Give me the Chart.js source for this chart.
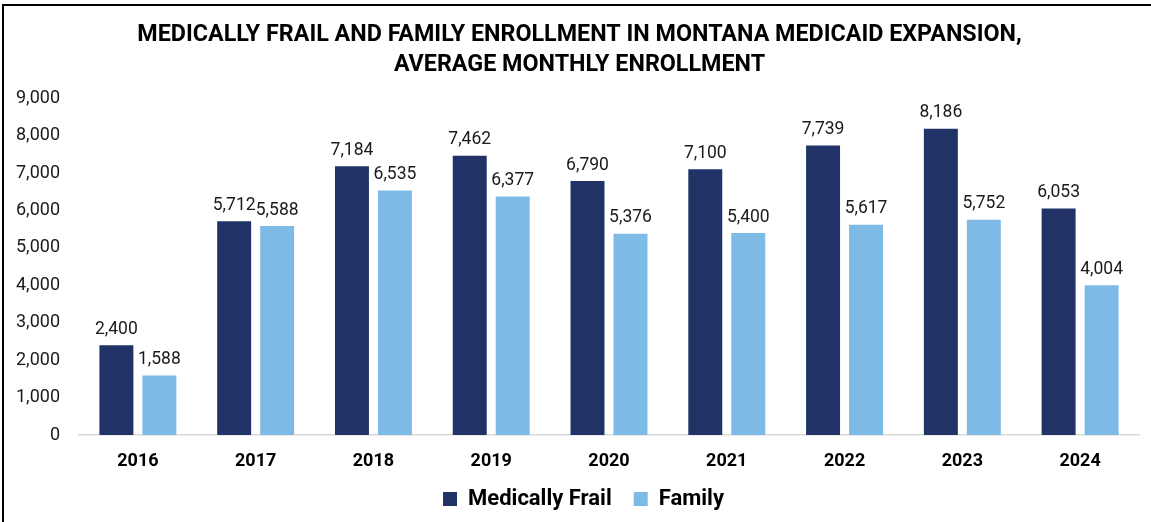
<!DOCTYPE html>
<html>
<head>
<meta charset="utf-8">
<script src="https://cdn.jsdelivr.net/npm/chart.js@4/dist/chart.umd.min.js"></script>
<style>
  html, body { margin: 0; padding: 0; background: #fff; overflow: hidden; }
  #wrap { position: relative; width: 1151px; height: 522px; }
  #frame { position: absolute; left: 2px; top: 4px; width: 1200px; height: 600px; border-left: 2px solid #000; border-top: 2px solid #000; pointer-events: none; }
  canvas { position: absolute; left: 0; top: 0; }
</style>
</head>
<body>
<div id="wrap">
<canvas id="c" width="1151" height="522"></canvas>
<div id="frame"></div>
</div>
<script>
const categories = ['2016','2017','2018','2019','2020','2021','2022','2023','2024'];
const medicallyFrail = [2400, 5712, 7184, 7462, 6790, 7100, 7739, 8186, 6053];
const family = [1588, 5588, 6535, 6377, 5376, 5400, 5617, 5752, 4004];
const titleLines = ['MEDICALLY FRAIL AND FAMILY ENROLLMENT IN MONTANA MEDICAID EXPANSION,', 'AVERAGE MONTHLY ENROLLMENT'];

const FONT = 'Roboto, "Noto Sans", sans-serif';
const fmt = v => v.toLocaleString('en-US');

const labelPlugin = {
  id: 'barLabels',
  afterDatasetsDraw(chart) {
    const ctx = chart.ctx;
    ctx.save();
    ctx.font = '17.5px ' + FONT;
    ctx.fillStyle = '#1a1a1a';
    ctx.textAlign = 'center';
    ctx.textBaseline = 'bottom';
    chart.data.datasets.forEach((ds, i) => {
      chart.getDatasetMeta(i).data.forEach((bar, j) => {
        ctx.fillText(fmt(ds.data[j]), bar.x, bar.y - 7);
      });
    });
    ctx.restore();
  }
};

// small position adjustments of title / legend after layout
const nudgePlugin = {
  id: 'nudge',
  afterLayout(chart) {
    const t = chart.titleBlock;
    if (t) { t.left += 20; }
    const l = chart.legend;
    if (l) {
      const h = l.height;
      l.top = 466; l.bottom = l.top + h;
      l.left += 14; l.right += 14;
    }
  }
};

new Chart(document.getElementById('c'), {
  type: 'bar',
  data: {
    labels: categories,
    datasets: [
      { label: 'Medically Frail', data: medicallyFrail, backgroundColor: '#203266', categoryPercentage: 0.73, barPercentage: 0.79 },
      { label: 'Family', data: family, backgroundColor: '#7dbbe6', categoryPercentage: 0.73, barPercentage: 0.79 }
    ]
  },
  options: {
    responsive: false,
    animation: false,
    layout: { padding: { left: 0, right: 12, top: 21, bottom: 0 } },
    plugins: {
      title: {
        display: true,
        text: titleLines,
        color: '#000',
        font: { family: FONT, size: 23.3, weight: 'bold', lineHeight: 1.25 },
        padding: { top: 0, bottom: 19 }
      },
      legend: {
        position: 'bottom',
        labels: {
          color: '#000',
          font: { family: FONT, size: 22, weight: 'bold' },
          boxWidth: 14, boxHeight: 14, padding: 22
        }
      },
      tooltip: { enabled: false }
    },
    scales: {
      x: {
        grid: { display: false, drawTicks: false },
        border: { display: true, color: '#d9d9d9', width: 1.5 },
        ticks: { color: '#000', font: { family: FONT, size: 18, weight: 'bold' }, padding: 16 },
        afterFit(s) { s.height = 33; }
      },
      y: {
        min: 0, max: 9000,
        grid: { display: false, drawTicks: false },
        border: { display: false },
        ticks: { stepSize: 1000, color: '#1a1a1a', font: { family: FONT, size: 18 }, padding: 19, callback: v => fmt(v) },
        afterFit(s) { s.width = 79; }
      }
    }
  },
  plugins: [labelPlugin, nudgePlugin]
});
</script>
</body>
</html>
